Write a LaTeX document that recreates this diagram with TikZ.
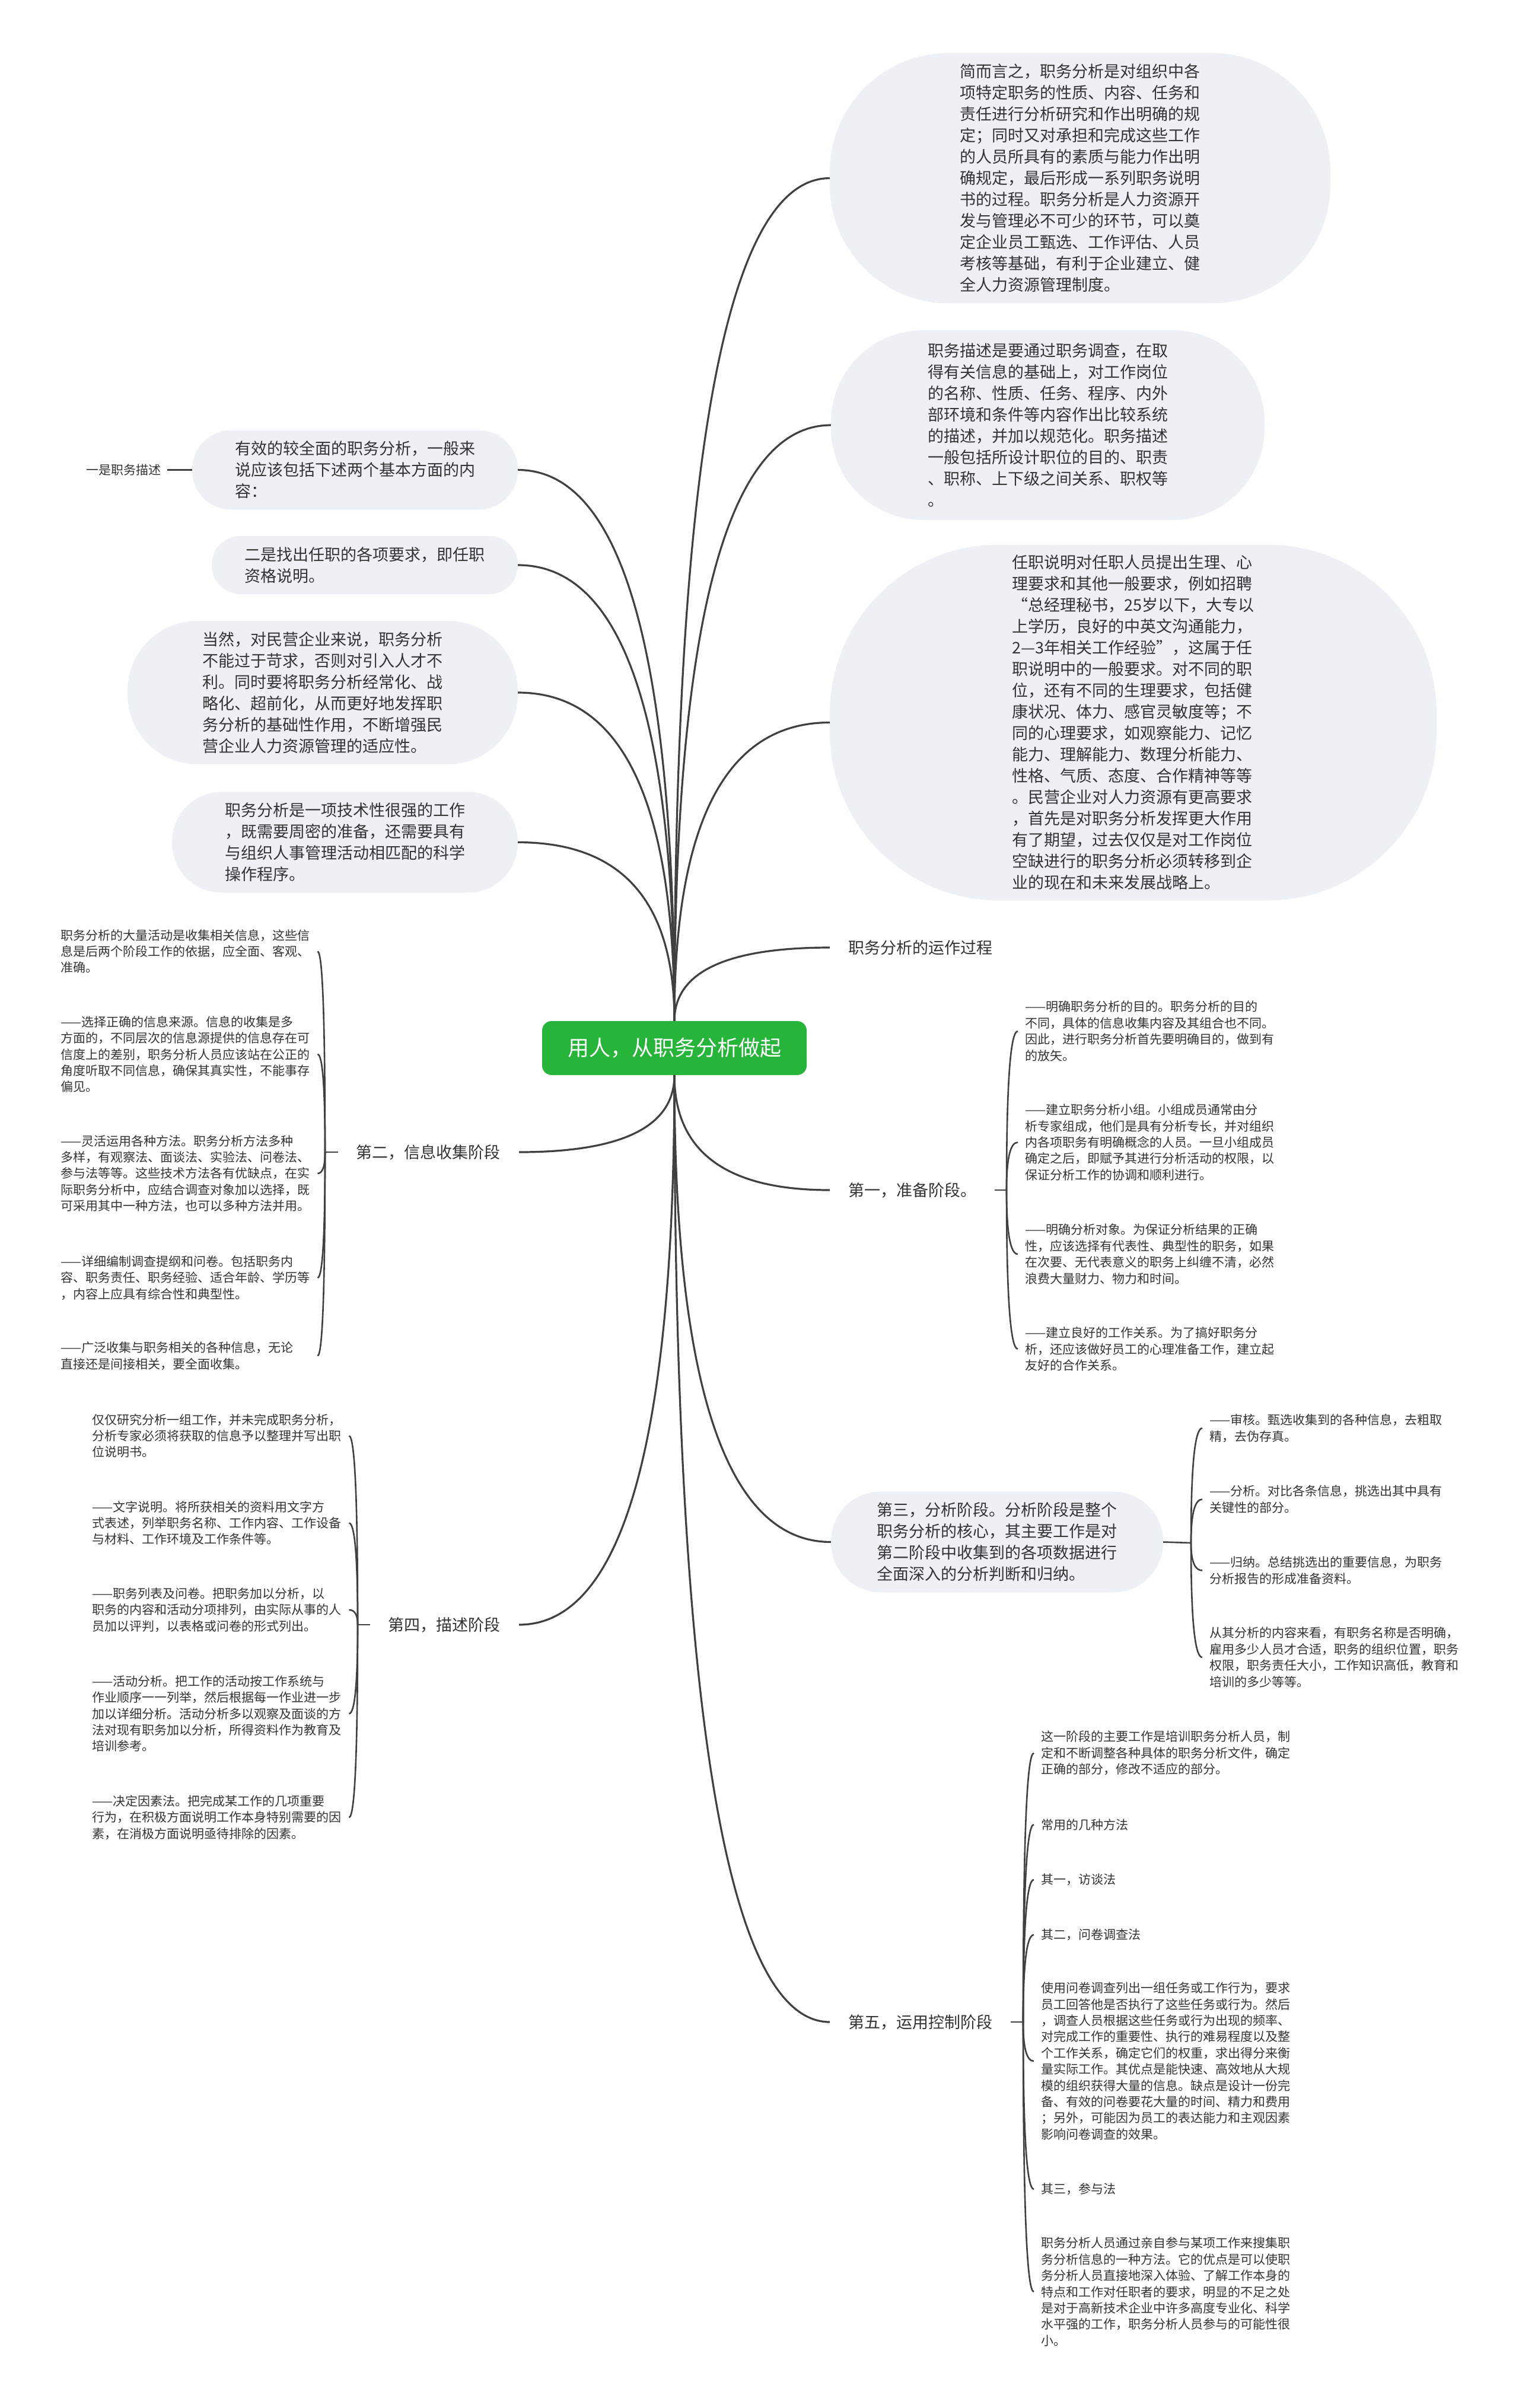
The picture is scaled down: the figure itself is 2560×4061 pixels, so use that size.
\documentclass[tikz,border=0pt]{standalone}
\usepackage{fontspec}
\setmainfont{Noto Sans CJK SC}
\usetikzlibrary{calc}
\definecolor{lc}{HTML}{404040}
\definecolor{bf}{HTML}{EDF0F4}
\definecolor{tc}{HTML}{333333}
\definecolor{rootg}{HTML}{27B43A}
\newcommand\qcurve[3]{%
  \path (#2 |- #3) coordinate (qq);
  \draw[#1] (#2) .. controls ($(#2)!0.6667!(qq)$) and ($(#3)!0.6667!(qq)$) .. (#3);}
\tikzset{
  conn/.style={draw=lc, line width=3.2pt},
  brk/.style={draw=lc, line width=2.6pt},
  rootbox/.style={fill=rootg, text=white, rounded corners=16pt, minimum width=446pt, minimum height=91pt, inner sep=0pt, font=\fontsize{36}{40}\selectfont},
  bub/.style={fill=bf, draw=none, align=left, inner sep=0pt, text=tc, font=\fontsize{27}{36}\selectfont},
  lbl/.style={align=left, inner xsep=31pt, inner ysep=4pt, text=tc, font=\fontsize{27}{36}\selectfont},
  leaf/.style={align=left, inner xsep=12pt, inner ysep=2pt, text width=421pt, text=tc, font=\fontsize{21}{27.4}\selectfont},
  sleaf/.style={align=left, inner xsep=10pt, inner ysep=2pt, text=tc, font=\fontsize{21}{27.4}\selectfont}
}
\begin{document}
\begin{tikzpicture}[x=1pt,y=-1pt]
\useasboundingbox[fill=white] (0,0) rectangle (2560,4061);

% root
\node[rootbox] (root) at (1137,1767.5) {用人，从职务分析做起};

% right level-1
\node[bub, minimum width=844, minimum height=422, rounded corners=200] (r1) at (1821,300.5) {简而言之，职务分析是对组织中各\\项特定职务的性质、内容、任务和\\责任进行分析研究和作出明确的规\\定；同时又对承担和完成这些工作\\的人员所具有的素质与能力作出明\\确规定，最后形成一系列职务说明\\书的过程。职务分析是人力资源开\\发与管理必不可少的环节，可以奠\\定企业员工甄选、工作评估、人员\\考核等基础，有利于企业建立、健\\全人力资源管理制度。};
\node[bub, minimum width=731, minimum height=320, rounded corners=155] (r2) at (1766.5,717) {职务描述是要通过职务调查，在取\\得有关信息的基础上，对工作岗位\\的名称、性质、任务、程序、内外\\部环境和条件等内容作出比较系统\\的描述，并加以规范化。职务描述\\一般包括所设计职位的目的、职责\\、职称、上下级之间关系、职权等\\。};
\node[bub, minimum width=1023, minimum height=600, rounded corners=285] (r3) at (1910.5,1218.5) {任职说明对任职人员提出生理、心\\理要求和其他一般要求，例如招聘\\“总经理秘书，25岁以下，大专以\\上学历，良好的中英文沟通能力，\\2—3年相关工作经验”，这属于任\\职说明中的一般要求。对不同的职\\位，还有不同的生理要求，包括健\\康状况、体力、感官灵敏度等；不\\同的心理要求，如观察能力、记忆\\能力、理解能力、数理分析能力、\\性格、气质、态度、合作精神等等\\。民营企业对人力资源有更高要求\\，首先是对职务分析发挥更大作用\\有了期望，过去仅仅是对工作岗位\\空缺进行的职务分析必须转移到企\\业的现在和未来发展战略上。};
\node[lbl, anchor=west] (r4) at (1399,1598) {职务分析的运作过程};
\node[lbl, anchor=west] (r5) at (1399,2007) {第一，准备阶段。};
\node[bub, minimum width=560, minimum height=170, rounded corners=84] (r6) at (1681,2600.5) {第三，分析阶段。分析阶段是整个\\职务分析的核心，其主要工作是对\\第二阶段中收集到的各项数据进行\\全面深入的分析判断和归纳。};
\node[lbl, anchor=west] (r7) at (1399,3410) {第五，运用控制阶段};

% left level-1
\node[bub, minimum width=549, minimum height=134, rounded corners=66] (l1) at (598.5,792.5) {有效的较全面的职务分析，一般来\\说应该包括下述两个基本方面的内\\容：};
\node[bub, minimum width=516, minimum height=98, rounded corners=48] (l2) at (615,953) {二是找出任职的各项要求，即任职\\资格说明。};
\node[bub, minimum width=658, minimum height=242, rounded corners=118] (l3) at (544,1168) {当然，对民营企业来说，职务分析\\不能过于苛求，否则对引入人才不\\利。同时要将职务分析经常化、战\\略化、超前化，从而更好地发挥职\\务分析的基础性作用，不断增强民\\营企业人力资源管理的适应性。};
\node[bub, minimum width=583, minimum height=170, rounded corners=84] (l4) at (581.5,1420.5) {职务分析是一项技术性很强的工作\\，既需要周密的准备，还需要具有\\与组织人事管理活动相匹配的科学\\操作程序。};
\node[lbl, anchor=east] (l5) at (875,1943) {第二，信息收集阶段};
\node[lbl, anchor=east] (l6) at (875,2740) {第四，描述阶段};

\node[sleaf, anchor=east] (l1a) at (282,792.5) {一是职务描述};

% root connectors
\qcurve{conn}{root.north}{r1.west}
\qcurve{conn}{root.north}{r2.west}
\qcurve{conn}{root.north}{r3.west}
\qcurve{conn}{root.north}{r4.west}
\qcurve{conn}{root.south}{r5.west}
\qcurve{conn}{root.south}{r6.west}
\qcurve{conn}{root.south}{r7.west}
\qcurve{conn}{root.north}{l1.east}
\qcurve{conn}{root.north}{l2.east}
\qcurve{conn}{root.north}{l3.east}
\qcurve{conn}{root.north}{l4.east}
\qcurve{conn}{root.south}{l5.east}
\qcurve{conn}{root.south}{l6.east}
\draw[brk] (l1.west) -- (l1a.east);

% junctions
\coordinate (j1) at (1697,2007);
\coordinate (j3) at (2008,2602);
\coordinate (j5) at (1725,3410);
\coordinate (j2) at (548,1943);
\coordinate (j4) at (603,2740);
\draw[brk] (r5.east) -- (j1);
\draw[brk] (r6.east) -- (j3);
\draw[brk] (r7.east) -- (j5);
\draw[brk] (l5.west) -- (j2);
\draw[brk] (l6.west) -- (j4);

% 第二 leaves
\node[leaf, anchor=west] (a1) at (90,1604.5) {职务分析的大量活动是收集相关信息，这些信\\息是后两个阶段工作的依据，应全面、客观、\\准确。};
\node[leaf, anchor=west] (a2) at (90,1778) {——选择正确的信息来源。信息的收集是多\\方面的，不同层次的信息源提供的信息存在可\\信度上的差别，职务分析人员应该站在公正的\\角度听取不同信息，确保其真实性，不能事存\\偏见。};
\node[leaf, anchor=west] (a3) at (90,1979) {——灵活运用各种方法。职务分析方法多种\\多样，有观察法、面谈法、实验法、问卷法、\\参与法等等。这些技术方法各有优缺点，在实\\际职务分析中，应结合调查对象加以选择，既\\可采用其中一种方法，也可以多种方法并用。};
\node[leaf, anchor=west] (a4) at (90,2155) {——详细编制调查提纲和问卷。包括职务内\\容、职务责任、职务经验、适合年龄、学历等\\，内容上应具有综合性和典型性。};
\node[leaf, anchor=west] (a5) at (90,2286.5) {——广泛收集与职务相关的各种信息，无论\\直接还是间接相关，要全面收集。};
\foreach \n in {a1,a2,a3,a4,a5} {\qcurve{brk}{j2}{\n.east}}

% 第四 leaves
\node[leaf, anchor=west] (b1) at (143,2421.5) {仅仅研究分析一组工作，并未完成职务分析，\\分析专家必须将获取的信息予以整理并写出职\\位说明书。};
\node[leaf, anchor=west] (b2) at (143,2568.5) {——文字说明。将所获相关的资料用文字方\\式表述，列举职务名称、工作内容、工作设备\\与材料、工作环境及工作条件等。};
\node[leaf, anchor=west] (b3) at (143,2715) {——职务列表及问卷。把职务加以分析，以\\职务的内容和活动分项排列，由实际从事的人\\员加以评判，以表格或问卷的形式列出。};
\node[leaf, anchor=west] (b4) at (143,2890) {——活动分析。把工作的活动按工作系统与\\作业顺序一一列举，然后根据每一作业进一步\\加以详细分析。活动分析多以观察及面谈的方\\法对现有职务加以分析，所得资料作为教育及\\培训参考。};
\node[leaf, anchor=west] (b5) at (143,3065) {——决定因素法。把完成某工作的几项重要\\行为，在积极方面说明工作本身特别需要的因\\素，在消极方面说明亟待排除的因素。};
\foreach \n in {b1,b2,b3,b4,b5} {\qcurve{brk}{j4}{\n.east}}

% 第一 leaves
\node[leaf, anchor=west] (c1) at (1716,1739) {——明确职务分析的目的。职务分析的目的\\不同，具体的信息收集内容及其组合也不同。\\因此，进行职务分析首先要明确目的，做到有\\的放矢。};
\node[leaf, anchor=west] (c2) at (1716,1926.5) {——建立职务分析小组。小组成员通常由分\\析专家组成，他们是具有分析专长，并对组织\\内各项职务有明确概念的人员。一旦小组成员\\确定之后，即赋予其进行分析活动的权限，以\\保证分析工作的协调和顺利进行。};
\node[leaf, anchor=west] (c3) at (1716,2115) {——明确分析对象。为保证分析结果的正确\\性，应该选择有代表性、典型性的职务，如果\\在次要、无代表意义的职务上纠缠不清，必然\\浪费大量财力、物力和时间。};
\node[leaf, anchor=west] (c4) at (1716,2275) {——建立良好的工作关系。为了搞好职务分\\析，还应该做好员工的心理准备工作，建立起\\友好的合作关系。};
\foreach \n in {c1,c2,c3,c4} {\qcurve{brk}{j1}{\n.west}}

% 第三 leaves
\node[leaf, anchor=west] (d1) at (2027,2408.5) {——审核。甄选收集到的各种信息，去粗取\\精，去伪存真。};
\node[leaf, anchor=west] (d2) at (2027,2528.5) {——分析。对比各条信息，挑选出其中具有\\关键性的部分。};
\node[leaf, anchor=west] (d3) at (2027,2648.5) {——归纳。总结挑选出的重要信息，为职务\\分析报告的形成准备资料。};
\node[leaf, anchor=west] (d4) at (2027,2795) {从其分析的内容来看，有职务名称是否明确，\\雇用多少人员才合适，职务的组织位置，职务\\权限，职务责任大小，工作知识高低，教育和\\培训的多少等等。};
\foreach \n in {d1,d2,d3,d4} {\qcurve{brk}{j3}{\n.west}}

% 第五 leaves
\node[leaf, anchor=west] (e1) at (1743,2956.5) {这一阶段的主要工作是培训职务分析人员，制\\定和不断调整各种具体的职务分析文件，确定\\正确的部分，修改不适应的部分。};
\node[leaf, anchor=west] (e2) at (1743,3077) {常用的几种方法};
\node[leaf, anchor=west] (e3) at (1743,3170) {其一，访谈法};
\node[leaf, anchor=west] (e4) at (1743,3263) {其二，问卷调查法};
\node[leaf, anchor=west] (e5) at (1743,3476) {使用问卷调查列出一组任务或工作行为，要求\\员工回答他是否执行了这些任务或行为。然后\\，调查人员根据这些任务或行为出现的频率、\\对完成工作的重要性、执行的难易程度以及整\\个工作关系，确定它们的权重，求出得分来衡\\量实际工作。其优点是能快速、高效地从大规\\模的组织获得大量的信息。缺点是设计一份完\\备、有效的问卷要花大量的时间、精力和费用\\；另外，可能因为员工的表达能力和主观因素\\影响问卷调查的效果。};
\node[leaf, anchor=west] (e6) at (1743,3692) {其三，参与法};
\node[leaf, anchor=west] (e7) at (1743,3865) {职务分析人员通过亲自参与某项工作来搜集职\\务分析信息的一种方法。它的优点是可以使职\\务分析人员直接地深入体验、了解工作本身的\\特点和工作对任职者的要求，明显的不足之处\\是对于高新技术企业中许多高度专业化、科学\\水平强的工作，职务分析人员参与的可能性很\\小。};
\foreach \n in {e1,e2,e3,e4,e5,e6,e7} {\qcurve{brk}{j5}{\n.west}}
\end{tikzpicture}
\end{document}
